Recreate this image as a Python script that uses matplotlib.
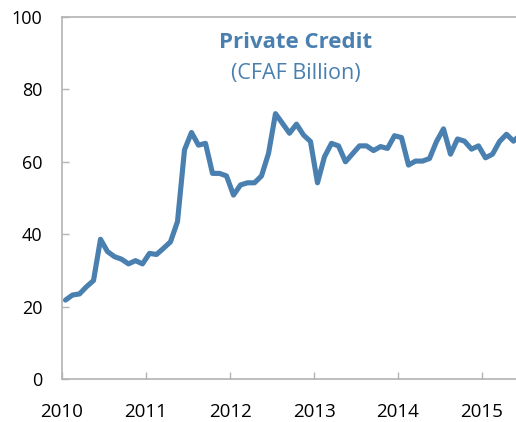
import matplotlib
matplotlib.use("Agg")
import matplotlib.pyplot as plt
import pandas as pd

start_month = "2010-01"
values = [
    21.8, 23.2, 23.5, 25.5, 27.2, 38.6, 35.2, 33.8, 33.1, 31.8, 32.7, 31.8,
    34.7, 34.4, 36.1, 37.9, 43.5, 63.3, 68.1, 64.6, 65.1, 56.8, 56.8, 56.1,
    50.8, 53.6, 54.2, 54.2, 56.1, 62.3, 73.3, 70.6, 67.9, 70.4, 67.4, 65.6,
    54.2, 61.4, 65.1, 64.4, 60.0, 62.2, 64.4, 64.4, 63.1, 64.2, 63.7, 67.2,
    66.7, 59.1, 60.2, 60.2, 60.9, 65.6, 69.1, 62.1, 66.3, 65.7, 63.5, 64.4,
    61.1, 62.1, 65.6, 67.6, 65.7, 67.5,
]
year_ticks = [2010, 2011, 2012, 2013, 2014, 2015]
y_ticks = [0, 20, 40, 60, 80, 100]
title = "Private Credit"
subtitle = "(CFAF Billion)"

dates = pd.date_range(start_month, periods=len(values), freq="MS")
x = [d.year + (d.month - 1 + 0.5) / 12 for d in dates]

plt.rcParams['font.family'] = ['Open Sans', 'DejaVu Sans']
color = "#4a80b0"
spine_c = "#b3b3b3"

fig = plt.figure(figsize=(5.16, 4.22), dpi=100)
ax = fig.add_axes([62/516, 1 - 379/422, (516 - 62)/516, (379 - 17)/422])
ax.plot(x, values, color=color, lw=3.7, solid_joinstyle="round", solid_capstyle="round", clip_on=True)
ax.set_xlim(2010, 2010 + 454/84)
ax.set_ylim(0, 100)
ax.set_xticks(year_ticks)
ax.set_xticklabels([str(y) for y in year_ticks])
ax.set_yticks(y_ticks)
ax.tick_params(direction="in", length=5, width=1, color=spine_c, labelsize=13, labelcolor="black")
ax.tick_params(axis="x", pad=17, labelsize=13.5)
ax.tick_params(axis="y", pad=14)
for s in ["left", "bottom", "top"]:
    ax.spines[s].set_color(spine_c)
    ax.spines[s].set_linewidth(1.2)
ax.spines["right"].set_visible(False)

fig.text(296/516, 1 - 42/422, title, ha="center", va="center", fontsize=16, fontweight="bold", color=color)
fig.text(296/516, 1 - 73/422, subtitle, ha="center", va="center", fontsize=15.5, color=color)

fig.savefig("out.png", dpi=100)
